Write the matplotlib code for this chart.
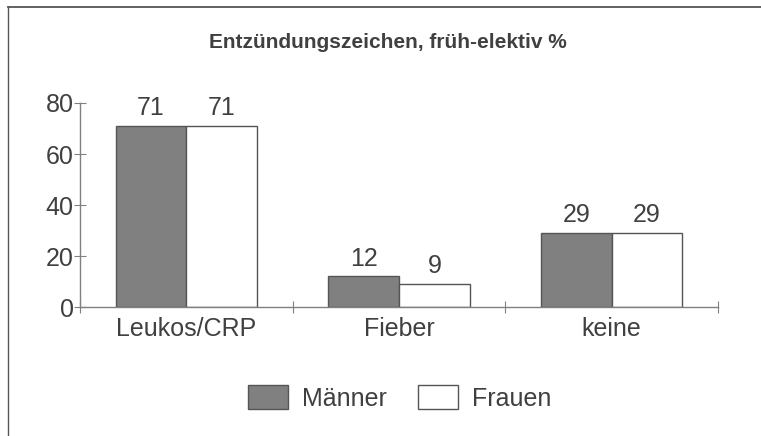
import numpy as np
import matplotlib.pyplot as plt
from matplotlib.lines import Line2D
from matplotlib.patches import Patch

categories = ['Leukos/CRP', 'Fieber', 'keine']
maenner = [71, 12, 29]
frauen = [71, 9, 29]
series_names = ['Männer', 'Frauen']
title = 'Entzündungszeichen, früh-elektiv %'

plt.rcParams['font.family'] = ['Liberation Sans', 'DejaVu Sans']
txt = '#404040'
axc = '#808080'
fs = 18

fig = plt.figure(figsize=(7.61, 4.36), dpi=100)
ax = fig.add_axes([80/761, 1-307/436, (718-80)/761, (307-103)/436])

x = np.arange(len(categories)) + 0.5
w = 0.333
b1 = ax.bar(x - w/2, maenner, w, color='#808080', edgecolor='#555555', linewidth=1)
b2 = ax.bar(x + w/2, frauen, w, color='white', edgecolor='#555555', linewidth=1)
ax.bar_label(b1, padding=4, fontsize=fs, color=txt)
ax.bar_label(b2, padding=4, fontsize=fs, color=txt)

ax.set_xlim(0, 3)
ax.set_ylim(0, 80)
ax.set_yticks([0, 20, 40, 60, 80])
ax.set_xticks([0, 1, 2, 3])
ax.set_xticklabels([])
ax.set_xticks(x, minor=True)
ax.set_xticklabels(categories, minor=True)
ax.tick_params(axis='x', which='minor', length=0, labelsize=fs, labelcolor=txt, pad=7)
ax.tick_params(axis='x', which='major', direction='inout', length=9, color=axc)
ax.tick_params(axis='y', direction='inout', length=9, color=axc, labelsize=fs,
               labelcolor=txt, pad=0)
for s in ['top', 'right']:
    ax.spines[s].set_visible(False)
for s in ['left', 'bottom']:
    ax.spines[s].set_color(axc)
    ax.spines[s].set_linewidth(1)

fig.text(388/761, 1-42/436, title, ha='center', va='center', fontsize=15,
         fontweight='bold', color=txt)

handles = [Patch(facecolor='#808080', edgecolor='#555555'),
           Patch(facecolor='white', edgecolor='#555555')]
fig.legend(handles, series_names, loc='center', bbox_to_anchor=(400/761, 1-398/436),
           ncol=2, frameon=False, fontsize=fs, labelcolor=txt,
           handlelength=1.6, handleheight=1.08, handletextpad=0.56, columnspacing=1.24)

# outer frame (top and left only)
fig.add_artist(Line2D([8/761, 8/761], [0, 1-7/436], transform=fig.transFigure,
                      color='#555555', linewidth=1))
fig.add_artist(Line2D([8/761, 1], [1-7/436, 1-7/436], transform=fig.transFigure,
                      color='#555555', linewidth=1.3))

fig.savefig('out.png', dpi=100)
